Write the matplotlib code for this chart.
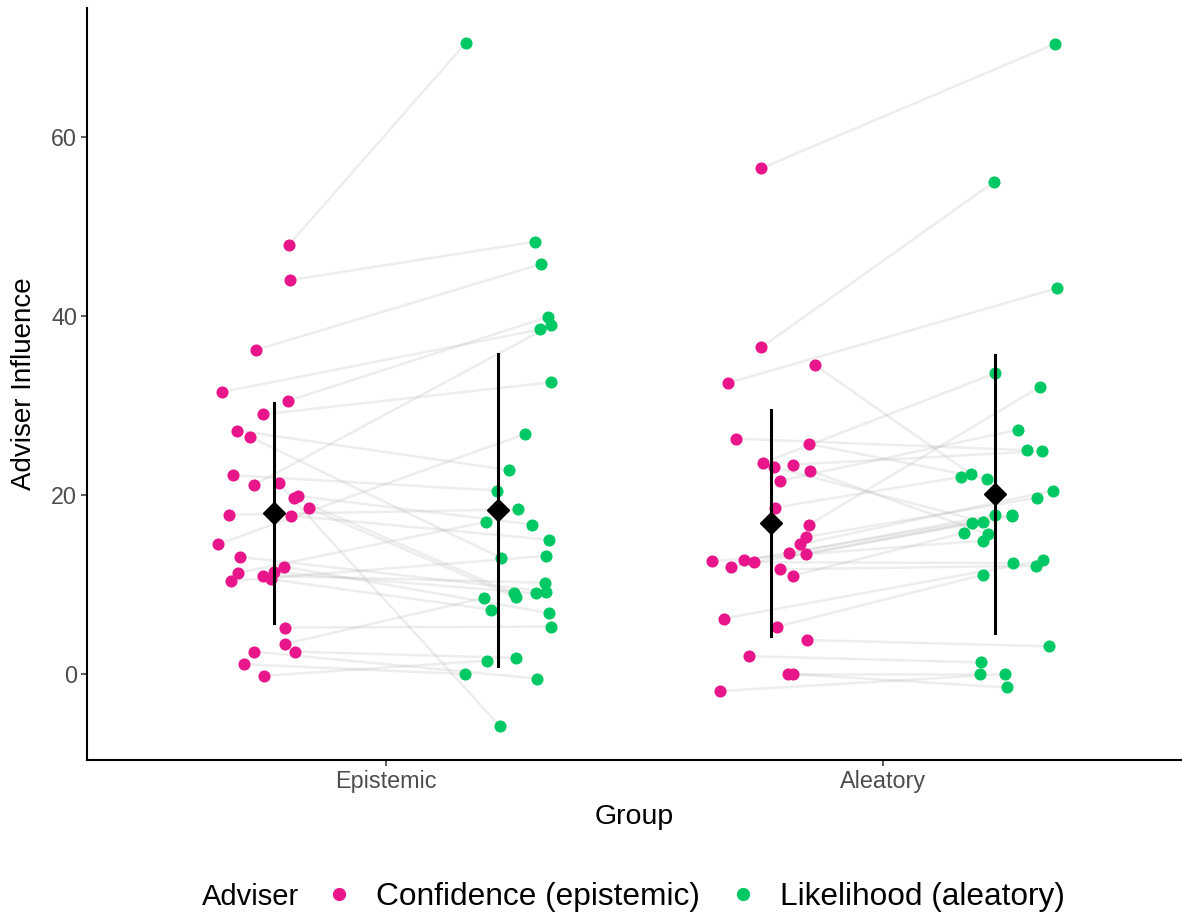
import numpy as np
import matplotlib.pyplot as plt
from matplotlib.lines import Line2D

plt.rcParams['font.family'] = ['Liberation Sans', 'DejaVu Sans']

groups = ['Epistemic', 'Aleatory']
advisers = ['Confidence (epistemic)', 'Likelihood (aleatory)']
pink = '#E8158B'
green = '#00C864'

# adviser influence per participant (same index = same participant)
epi_conf = [47.9, 44.0, 36.2, 31.5, 30.5, 29.0, 27.2, 26.5, 22.2, 21.1,
            21.3, 19.7, 19.9, 18.5, 17.7, 17.8, 14.5, 13.1, 11.3, 10.4,
            11.0, 10.6, 11.4, 12.0, 5.2, 3.35, 2.5, 2.5, 1.1, -0.2]
epi_lik = [70.5, 48.3, 45.8, 38.5, 39.9, 32.6, 22.8, 13.0, 20.5, 38.96,
           -5.8, 9.0, 16.7, 8.6, 15.0, 18.4, 26.8, 9.2, 17.0, 13.2,
           10.2, 7.2, 9.0, 6.8, 5.3, 8.5, 1.8, -0.5, 0.0, 1.5]
ale_conf = [56.5, 36.5, 34.5, 32.5, 26.3, 25.7, 23.6, 23.1, 23.4, 22.7,
            21.6, 18.6, 16.7, 15.3, 14.5, 13.5, 13.4, 12.7, 12.5, 12.6,
            12.0, 11.7, 11.0, 6.2, 5.3, 3.8, 2.0, 0.0, 0.0, -1.9]
ale_lik = [70.4, 55.0, 22.3, 43.1, 25.0, 21.8, 33.6, 17.0, 24.9, 15.6,
           27.3, 22.0, 32.1, 19.7, 20.5, 17.8, 16.9, 17.8, 12.4, 14.9,
           17.6, 12.1, 15.8, 12.7, 11.1, 3.1, 1.3, 0.0, -1.5, 0.0]

# horizontal jitter of each point
epi_conf_jit = [0.030, 0.032, -0.036, -0.104, 0.028, -0.022, -0.074, -0.048, -0.082, -0.040,
                0.010, 0.040, 0.048, 0.072, 0.034, -0.090, -0.112, -0.068, -0.072, -0.086,
                -0.022, -0.006, 0.000, 0.020, 0.022, 0.022, 0.042, -0.040, -0.060, -0.020]
epi_lik_jit = [-0.064, 0.076, 0.088, 0.086, 0.102, 0.108, 0.022, 0.006, -0.002, 0.108,
               0.004, 0.032, 0.070, 0.036, 0.104, 0.040, 0.054, 0.098, -0.024, 0.098,
               0.096, -0.014, 0.078, 0.104, 0.108, -0.028, 0.036, 0.080, -0.066, -0.022]
ale_conf_jit = [-0.020, -0.020, 0.088, -0.088, -0.072, 0.076, -0.016, 0.006, 0.044, 0.078,
                0.018, 0.008, 0.076, 0.070, 0.058, 0.036, 0.070, -0.056, -0.034, -0.120,
                -0.082, 0.018, 0.044, -0.096, 0.012, 0.072, -0.044, 0.034, 0.044, -0.104]
ale_lik_jit = [0.120, -0.002, -0.048, 0.124, 0.064, -0.016, 0.000, -0.024, 0.094, -0.014,
               0.046, -0.070, 0.090, 0.084, 0.116, 0.000, -0.046, 0.034, 0.036, -0.024,
               0.034, 0.082, -0.062, 0.096, -0.024, 0.108, -0.028, -0.030, 0.024, 0.020]

data = {
    'Epistemic': [(epi_conf, epi_conf_jit), (epi_lik, epi_lik_jit)],
    'Aleatory': [(ale_conf, ale_conf_jit), (ale_lik, ale_lik_jit)],
}
colors = [pink, green]
dodge = 0.225

fig = plt.figure(figsize=(11.82, 9.17), dpi=100)
ax = fig.add_axes([87 / 1182, 157 / 917, 1095 / 1182, 752 / 917])

for gi, g in enumerate(groups):
    x0 = gi + 1
    (c, cj), (l, lj) = data[g]
    xc = x0 - dodge + np.array(cj)
    xl = x0 + dodge + np.array(lj)
    # paired lines
    for i in range(len(c)):
        ax.plot([xc[i], xl[i]], [c[i], l[i]], color='#b0b0b0', alpha=0.22,
                lw=1.8, zorder=1, solid_capstyle='butt')
    for k, (vals, xs) in enumerate([(c, xc), (l, xl)]):
        ax.scatter(xs, vals, s=76, color=colors[k], linewidths=0, zorder=2)
        m = np.mean(vals)
        sd = np.std(vals, ddof=1)
        xm = x0 + (-dodge if k == 0 else dodge)
        ax.plot([xm, xm], [m - sd, m + sd], color='black', lw=2.2, zorder=3)
        ax.plot(xm, m, marker='D', color='black', markersize=11, zorder=4)

ax.set_xlim(0.4, 2.6)
ax.set_ylim(-9.6, 74.4)
ax.set_xticks([1, 2])
ax.set_xticklabels(groups)
ax.set_yticks([0, 20, 40, 60])

for s in ['top', 'right']:
    ax.spines[s].set_visible(False)
for s in ['left', 'bottom']:
    ax.spines[s].set_linewidth(1.5)
    ax.spines[s].set_color('black')
ax.tick_params(axis='both', labelsize=16.8, labelcolor='#4D4D4D', color='#333333',
               length=4, width=1.1, pad=3)

ax.set_xlabel('Group', fontsize=20.5, labelpad=8)
ax.set_ylabel('Adviser Influence', fontsize=20, labelpad=10)

# legend along the bottom
fig.text(202 / 1182, 1 - 897 / 917, 'Adviser', fontsize=21, va='center', ha='left')
handles = [Line2D([], [], marker='o', ls='', color=col, markersize=8.5) for col in colors]
fig.legend(handles, advisers, loc='center left', bbox_to_anchor=(323 / 1182, 1 - 897 / 917),
           ncol=2, frameon=False, fontsize=22.8, handlelength=1.0, handletextpad=0.68,
           columnspacing=0.85, borderpad=0, borderaxespad=0)

fig.savefig('out.png', dpi=100)
